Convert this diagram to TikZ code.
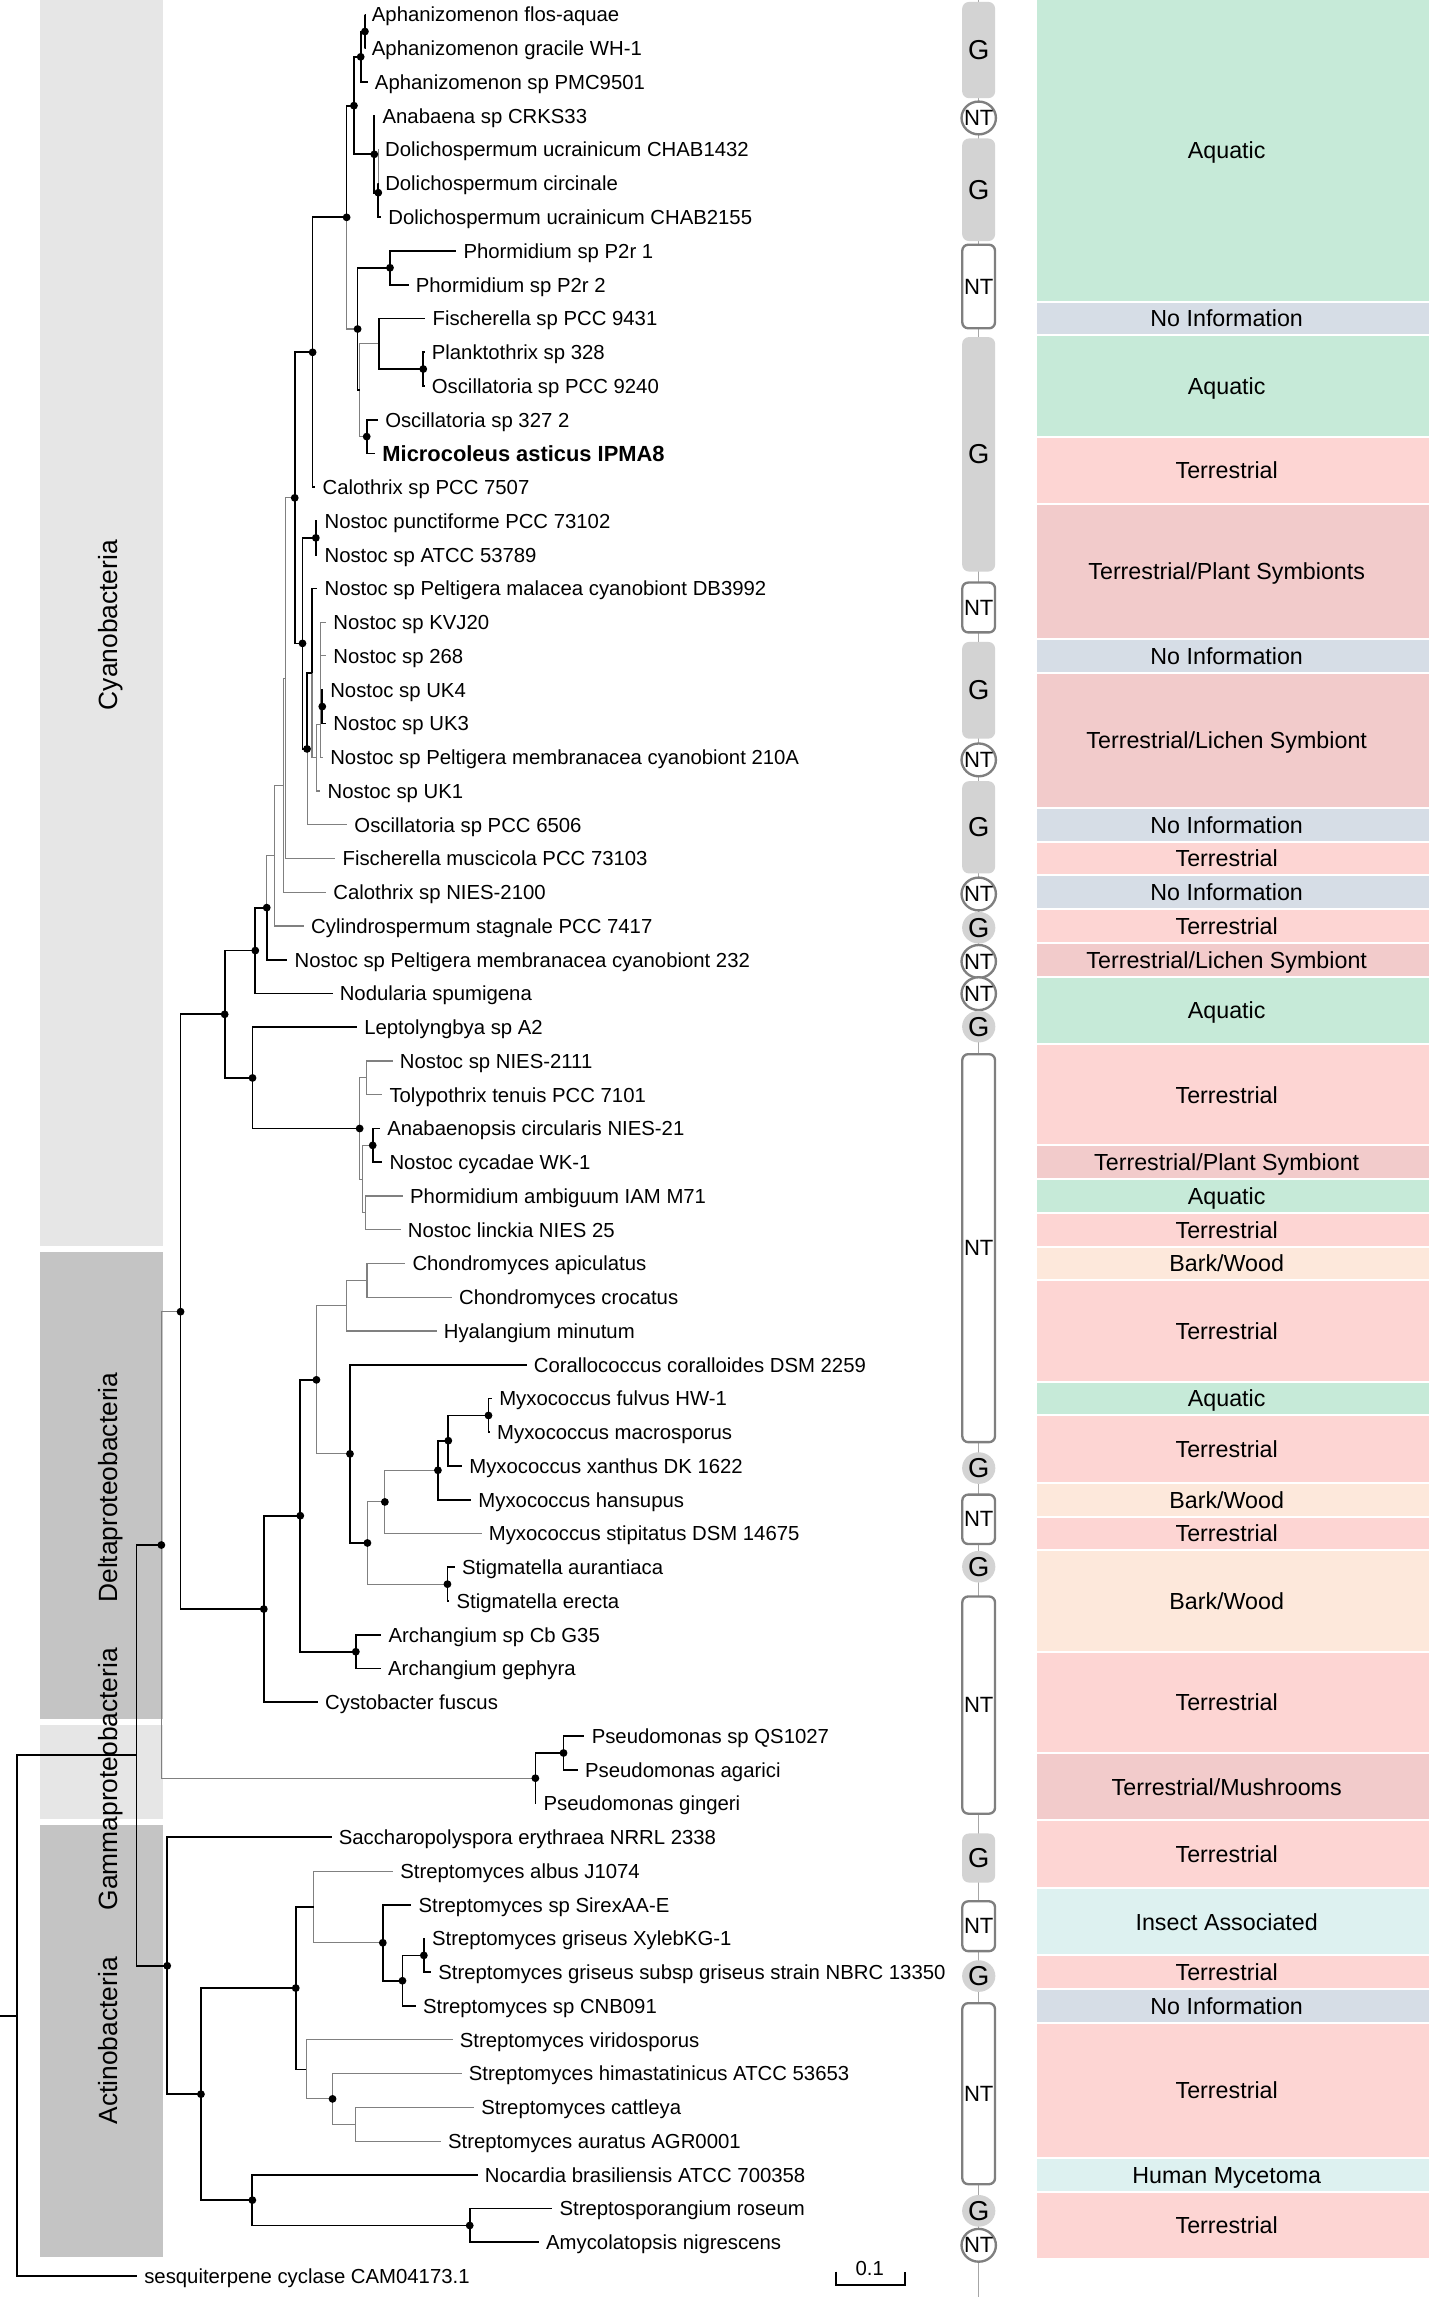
\documentclass[tikz,border=0pt]{standalone}
\usepackage{fontspec}
\setmainfont{Liberation Sans}
\definecolor{aqc}{HTML}{C6EAD8}
\definecolor{tec}{HTML}{FDD5D3}
\definecolor{tsc}{HTML}{F2CBCB}
\definecolor{nic}{HTML}{D6DDE6}
\definecolor{bwc}{HTML}{FDE8DB}
\definecolor{iac}{HTML}{DDF1F0}
\definecolor{barlight}{HTML}{E6E6E6}
\definecolor{bardark}{HTML}{C4C4C4}
\definecolor{gfillc}{HTML}{D3D3D3}
\definecolor{ntline}{HTML}{7F7F7F}
\definecolor{treegrey}{HTML}{808080}
\definecolor{colgrey}{HTML}{A6A6A6}
\newcommand\ry[1]{(10+23.03*(#1-1))}
\newcommand\tleaf[4]{\coordinate (#1) at ({#3-5.5},{\ry{#2}});
  \node[leaflab] (#1-l) at ({#3-0.8},{\ry{#2}+5}) {#4};}
\newcommand\hab[5]{\fill[#4] (707.3,{23.03*#2-23.845}) rectangle (975,{23.03*#3-2.215});
  \node[habtxt] (#1) at (837,{23.03*(#2+#3)/2-13.03+5.7}) {#5};}
\newcommand\gbox[3]{\fill[gfillc, rounded corners=3.5pt] (656.5,#2) rectangle (679,#3);
  \node[gtxt] (#1) at (667.8,{(#2+#3)/2}) {G};}
\newcommand\ntbox[3]{\filldraw[fill=white, draw=ntline, line width=1.2pt, rounded corners=3pt] (656.6,#2) rectangle (678.9,#3);
  \node[nttxt] (#1) at (667.8,{(#2+#3)/2}) {NT};}
\newcommand\ntcirc[2]{\filldraw[fill=white, draw=ntline, line width=1.2pt] (667.8,#2) ellipse [x radius=8.8pt, y radius=8.4pt];
  \node[nttxt] (#1) at (667.8,#2) {NT};}
\newcommand\gcirc[2]{\fill[gfillc] (667.8,#2) ellipse [x radius=8.5pt, y radius=8.1pt];
  \node[gtxt] (#1) at (667.8,#2) {G};}
\begin{document}
\begin{tikzpicture}[x={(0.75pt,0pt)}, y={(0pt,-0.75pt)},
  eblk/.style={line width=0.9pt, black},
  egry/.style={line width=0.55pt, treegrey},
  leaflab/.style={anchor=base west, inner sep=0pt, font=\fontsize{10.4}{12}\selectfont},
  boldlab/.style={anchor=base west, inner sep=0pt, font=\fontsize{11.2}{13}\selectfont\bfseries},
  habtxt/.style={anchor=base, inner sep=0pt, font=\fontsize{11.9}{14}\selectfont},
  gtxt/.style={inner sep=0pt, font=\fontsize{14}{16}\selectfont},
  nttxt/.style={inner sep=0pt, font=\fontsize{11.3}{13}\selectfont},
  cladelab/.style={rotate=90, anchor=base, inner sep=0pt, font=\fontsize{13.5}{16}\selectfont},
  colline/.style={line width=0.6pt, colgrey},
  haq/.style={fill=aqc}, hte/.style={fill=tec}, hts/.style={fill=tsc},
  hni/.style={fill=nic}, hbw/.style={fill=bwc}, hia/.style={fill=iac}]
\useasboundingbox (0,0) rectangle (975,1567.3);

% clade bars
\fill[barlight] (27.3,0) rectangle (111.4,850);
\fill[bardark] (27.3,854) rectangle (111.4,1173);
\fill[barlight] (27.3,1177) rectangle (111.4,1241);
\fill[bardark] (27.3,1245) rectangle (111.4,1540);
\node[cladelab] (cyano) at (80.2,426.5) {Cyanobacteria};
\node[cladelab] (delta) at (80.2,1015) {Deltaproteobacteria};
\node[cladelab] (gamma) at (80.2,1214) {Gammaproteobacteria};
\node[cladelab] (actino) at (80.2,1392.5) {Actinobacteria};

% habitat column
\hab{h1}{1}{9}{haq}{Aquatic}
\hab{h2}{10}{10}{hni}{No Information}
\hab{h3}{11}{13}{haq}{Aquatic}
\hab{h4}{14}{15}{hte}{Terrestrial}
\hab{h5}{16}{19}{hts}{Terrestrial/Plant Symbionts}
\hab{h6}{20}{20}{hni}{No Information}
\hab{h7}{21}{24}{hts}{Terrestrial/Lichen Symbiont}
\hab{h8}{25}{25}{hni}{No Information}
\hab{h9}{26}{26}{hte}{Terrestrial}
\hab{h10}{27}{27}{hni}{No Information}
\hab{h11}{28}{28}{hte}{Terrestrial}
\hab{h12}{29}{29}{hts}{Terrestrial/Lichen Symbiont}
\hab{h13}{30}{31}{haq}{Aquatic}
\hab{h14}{32}{34}{hte}{Terrestrial}
\hab{h15}{35}{35}{hts}{Terrestrial/Plant Symbiont}
\hab{h16}{36}{36}{haq}{Aquatic}
\hab{h17}{37}{37}{hte}{Terrestrial}
\hab{h18}{38}{38}{hbw}{Bark/Wood}
\hab{h19}{39}{41}{hte}{Terrestrial}
\hab{h20}{42}{42}{haq}{Aquatic}
\hab{h21}{43}{44}{hte}{Terrestrial}
\hab{h22}{45}{45}{hbw}{Bark/Wood}
\hab{h23}{46}{46}{hte}{Terrestrial}
\hab{h24}{47}{49}{hbw}{Bark/Wood}
\hab{h25}{50}{52}{hte}{Terrestrial}
\hab{h26}{53}{54}{hts}{Terrestrial/Mushrooms}
\hab{h27}{55}{56}{hte}{Terrestrial}
\hab{h28}{57}{58}{hia}{Insect Associated}
\hab{h29}{59}{59}{hte}{Terrestrial}
\hab{h30}{60}{60}{hni}{No Information}
\hab{h31}{61}{64}{hte}{Terrestrial}
\hab{h32}{65}{65}{hia}{Human Mycetoma}
\hab{h33}{66}{67}{hte}{Terrestrial}

% G / NT column
\coordinate (colTop) at (667.8,0);
\coordinate (colBot) at (667.8,1567.3);
\draw[colline] (colTop) -- (colBot);
\gbox{g1}{1.3}{67}
\ntcirc{nt1}{80.5}
\gbox{g2}{94.5}{164.5}
\ntbox{nt2}{167}{224}
\gbox{g3}{230}{390}
\ntbox{nt3}{397.5}{431.5}
\gbox{g4}{438}{504}
\ntcirc{nt4}{518.5}
\gbox{g5}{533}{596}
\ntcirc{nt5}{610}
\gcirc{g6}{633}
\ntcirc{nt6}{656}
\ntcirc{nt7}{678}
\gcirc{g7}{700.5}
\ntbox{nt8}{719.3}{984}
\gcirc{g8}{1001.7}
\ntbox{nt9}{1019.8}{1053.5}
\gcirc{g9}{1069}
\ntbox{nt10}{1089.3}{1237.5}
\gbox{g10}{1251}{1284.5}
\ntbox{nt11}{1297.3}{1331.3}
\gcirc{g11}{1348.3}
\ntbox{nt12}{1366.8}{1490.3}
\gcirc{g12}{1508.5}
\ntcirc{nt13}{1532}

% leaves
\tleaf{l1}{1}{254.3}{Aphanizomenon flos-aquae}
\tleaf{l2}{2}{254.3}{Aphanizomenon gracile WH-1}
\tleaf{l3}{3}{256.4}{Aphanizomenon sp PMC9501}
\tleaf{l4}{4}{261.6}{Anabaena sp CRKS33}
\tleaf{l5}{5}{263.3}{Dolichospermum ucrainicum CHAB1432}
\tleaf{l6}{6}{263.4}{Dolichospermum circinale}
\tleaf{l7}{7}{265.6}{Dolichospermum ucrainicum CHAB2155}
\tleaf{l8}{8}{316.8}{Phormidium sp P2r 1}
\tleaf{l9}{9}{284.3}{Phormidium sp P2r 2}
\tleaf{l10}{10}{295.7}{Fischerella sp PCC 9431}
\tleaf{l11}{11}{295.2}{Planktothrix sp 328}
\tleaf{l12}{12}{295.2}{Oscillatoria sp PCC 9240}
\tleaf{l13}{13}{263.4}{Oscillatoria sp 327 2}
\coordinate (l14) at (256,{\ry{14}});
\node[boldlab] (l14-l) at (260.7,{\ry{14}+5.3}) {Microcoleus asticus IPMA8};
\tleaf{l15}{15}{220.7}{Calothrix sp PCC 7507}
\tleaf{l16}{16}{222}{Nostoc punctiforme PCC 73102}
\tleaf{l17}{17}{222}{Nostoc sp ATCC 53789}
\tleaf{l18}{18}{222}{Nostoc sp Peltigera malacea cyanobiont DB3992}
\tleaf{l19}{19}{228}{Nostoc sp KVJ20}
\tleaf{l20}{20}{228}{Nostoc sp 268}
\tleaf{l21}{21}{225.9}{Nostoc sp UK4}
\tleaf{l22}{22}{228}{Nostoc sp UK3}
\tleaf{l23}{23}{225.9}{Nostoc sp Peltigera membranacea cyanobiont 210A}
\tleaf{l24}{24}{224.1}{Nostoc sp UK1}
\tleaf{l25}{25}{242.4}{Oscillatoria sp PCC 6506}
\tleaf{l26}{26}{234.3}{Fischerella muscicola PCC 73103}
\tleaf{l27}{27}{228}{Calothrix sp NIES-2100}
\tleaf{l28}{28}{212.9}{Cylindrospermum stagnale PCC 7417}
\tleaf{l29}{29}{201.6}{Nostoc sp Peltigera membranacea cyanobiont 232}
\tleaf{l30}{30}{232.4}{Nodularia spumigena}
\tleaf{l31}{31}{249.1}{Leptolyngbya sp A2}
\tleaf{l32}{32}{273.4}{Nostoc sp NIES-2111}
\tleaf{l33}{33}{266.3}{Tolypothrix tenuis PCC 7101}
\tleaf{l34}{34}{264.8}{Anabaenopsis circularis NIES-21}
\tleaf{l35}{35}{266.3}{Nostoc cycadae WK-1}
\tleaf{l36}{36}{280.4}{Phormidium ambiguum IAM M71}
\tleaf{l37}{37}{278.9}{Nostoc linckia NIES 25}
\tleaf{l38}{38}{282}{Chondromyces apiculatus}
\tleaf{l39}{39}{313.8}{Chondromyces crocatus}
\tleaf{l40}{40}{303.4}{Hyalangium minutum}
\tleaf{l41}{41}{364.8}{Corallococcus coralloides DSM 2259}
\tleaf{l42}{42}{341.2}{Myxococcus fulvus HW-1}
\tleaf{l43}{43}{339.8}{Myxococcus macrosporus}
\tleaf{l44}{44}{320.8}{Myxococcus xanthus DK 1622}
\tleaf{l45}{45}{327}{Myxococcus hansupus}
\tleaf{l46}{46}{334.1}{Myxococcus stipitatus DSM 14675}
\tleaf{l47}{47}{315.8}{Stigmatella aurantiaca}
\tleaf{l48}{48}{312.1}{Stigmatella erecta}
\tleaf{l49}{49}{265.7}{Archangium sp Cb G35}
\tleaf{l50}{50}{265.4}{Archangium gephyra}
\tleaf{l51}{51}{222.4}{Cystobacter fuscus}
\tleaf{l52}{52}{404.3}{Pseudomonas sp QS1027}
\tleaf{l53}{53}{399.8}{Pseudomonas agarici}
\tleaf{l54}{54}{371.5}{Pseudomonas gingeri}
\tleaf{l55}{55}{231.7}{Saccharopolyspora erythraea NRRL 2338}
\tleaf{l56}{56}{273.7}{Streptomyces albus J1074}
\tleaf{l57}{57}{286.2}{Streptomyces sp SirexAA-E}
\tleaf{l58}{58}{295.4}{Streptomyces griseus XylebKG-1}
\tleaf{l59}{59}{299.6}{Streptomyces griseus subsp griseus strain NBRC 13350}
\tleaf{l60}{60}{289.2}{Streptomyces sp CNB091}
\tleaf{l61}{61}{314.3}{Streptomyces viridosporus}
\tleaf{l62}{62}{320.5}{Streptomyces himastatinicus ATCC 53653}
\tleaf{l63}{63}{328.9}{Streptomyces cattleya}
\tleaf{l64}{64}{306.3}{Streptomyces auratus AGR0001}
\tleaf{l65}{65}{331.4}{Nocardia brasiliensis ATCC 700358}
\tleaf{l66}{66}{382.4}{Streptosporangium roseum}
\tleaf{l67}{67}{373.2}{Amycolatopsis nigrescens}
\tleaf{l68}{68}{99}{sesquiterpene cyclase CAM04173.1}

% internal nodes
\coordinate (A) at (249.0,21.5);
\coordinate (B) at (246.1,38.8);
\coordinate (C) at (241.5,72.1);
\coordinate (D) at (255.4,105.3);
\coordinate (E) at (258.1,131.5);
\coordinate (N1) at (236.5,148.3);
\coordinate (N2) at (244.0,224.5);
\coordinate (P) at (266.1,182.7);
\coordinate (N3) at (245.5,266.2);
\coordinate (Q) at (258.6,234.6);
\coordinate (S) at (288.8,251.8);
\coordinate (R) at (250.2,297.9);
\coordinate (N0) at (213.3,240.4);
\coordinate (M1) at (201.1,339.7);
\coordinate (M2) at (206.4,439.0);
\coordinate (M3) at (215.5,367.0);
\coordinate (M4) at (209.5,511.0);
\coordinate (M5) at (212.9,459.3);
\coordinate (M6) at (216.0,517.1);
\coordinate (M7) at (218.6,494.5);
\coordinate (M8) at (219.9,482.1);
\coordinate (L1) at (194.6,462.8);
\coordinate (L2) at (193.3,535.8);
\coordinate (L3) at (187.5,583.8);
\coordinate (L4) at (182.0,619.3);
\coordinate (K1) at (174.2,648.6);
\coordinate (K0) at (153.3,692.1);
\coordinate (K2) at (172.3,735.5);
\coordinate (K3) at (245.4,770.0);
\coordinate (K4) at (249.9,735.5);
\coordinate (K5) at (247.3,804.5);
\coordinate (K6) at (254.3,781.5);
\coordinate (K7) at (249.1,827.6);
\coordinate (J0) at (123.2,895.0);
\coordinate (J1) at (180.0,1097.9);
\coordinate (J2) at (204.9,1034.2);
\coordinate (J3) at (215.9,941.5);
\coordinate (J5) at (236.3,890.9);
\coordinate (J8) at (250.4,873.6);
\coordinate (J6) at (238.8,992.0);
\coordinate (J9) at (250.7,1052.8);
\coordinate (J10) at (262.6,1024.8);
\coordinate (J11) at (305.3,1080.9);
\coordinate (J12) at (298.8,1003.2);
\coordinate (J13) at (305.9,983.0);
\coordinate (J14) at (333.3,965.8);
\coordinate (J4) at (242.8,1127.0);
\coordinate (I0) at (110.1,1054.2);
\coordinate (G1) at (365.3,1213.3);
\coordinate (G2) at (384.5,1196.1);
\coordinate (H0) at (93.1,1197.7);
\coordinate (R0) at (11.7,1375.4);
\coordinate (root) at (0,1375.4);
\coordinate (F0) at (114.1,1341.3);
\coordinate (F1) at (137.1,1428.9);
\coordinate (F2) at (201.8,1356.5);
\coordinate (F3) at (172.2,1501.2);
\coordinate (F4) at (320.5,1518.5);
\coordinate (F5) at (214.0,1301.1);
\coordinate (F6) at (209.0,1412.0);
\coordinate (F7) at (261.2,1325.6);
\coordinate (F8) at (274.6,1351.5);
\coordinate (F9) at (289.2,1334.2);
\coordinate (F10) at (226.9,1432.1);
\coordinate (F11) at (242.4,1449.4);

% grey branches
\foreach \p/\c in {E/l5, N1/N2, N3/Q, N3/R, M4/l25, M5/M6, M6/M7, M6/l24,
  M7/l19, M7/l20, M7/M8, M7/l23, L1/M1, L1/l26, L2/L1, L2/l27, L3/L2, L3/l28,
  L4/L3, K3/K4, K3/K5, K4/l32, K4/l33, K5/K6, K5/K7, K7/l36, K7/l37,
  J3/J5, J3/J6, J5/J8, J5/l40, J8/l38, J8/l39, J9/J10, J9/J11, J10/J12, J10/l46,
  I0/J0, I0/G1, F5/l56, F5/F7, F6/l61, F6/F10, F10/l62, F10/F11, F11/l63, F11/l64}
  \draw[egry] (\p) |- (\c);

% black branches
\foreach \p/\c in {A/l1, A/l2, B/A, B/l3, C/B, C/D, D/l4, D/E, E/l6, E/l7,
  N1/C, N2/P, N2/N3, P/l8, P/l9, Q/l10, Q/S, S/l11, S/l12, R/l13, R/l14,
  N0/N1, N0/l15, M1/N0, M1/M2, M2/M3, M2/M4, M3/l16, M3/l17, M4/M5, M5/l18,
  M8/l21, M8/l22, L4/l29, K1/L4, K1/l30, K0/K1, K0/K2, K2/l31, K2/K3,
  K6/l34, K6/l35, J0/K0, J0/J1, J1/J2, J1/l51, J2/J3, J2/J4, J4/l49, J4/l50,
  J6/l41, J6/J9, J11/l47, J11/l48, J12/J13, J12/l45, J13/J14, J13/l44,
  J14/l42, J14/l43, G1/G2, G1/l54, G2/l52, G2/l53, H0/I0, H0/F0, R0/H0, R0/l68,
  F0/l55, F0/F1, F1/F2, F1/F3, F3/l65, F3/F4, F4/l66, F4/l67, F2/F5, F2/F6,
  F7/l57, F7/F8, F8/F9, F8/l60, F9/l58, F9/l59}
  \draw[eblk] (\p) |- (\c);
\draw[eblk] (root) -- (R0);

% support dots
\foreach \n in {A,B,C,D,E,N1,N2,P,S,R,N0,M1,M2,M3,M4,M8,L4,K1,K0,K2,K3,K6,
  J0,J1,J2,J3,J4,J6,J9,J10,J11,J12,J13,J14,I0,G1,G2,F0,F1,F2,F3,F4,F7,F8,F9,F10}
  \fill (\n) circle[radius=2pt];

% scale bar
\coordinate (sbA) at (570.4,1550);
\coordinate (sbB) at (570.4,1559);
\coordinate (sbC) at (617.6,1559);
\coordinate (sbD) at (617.6,1550);
\draw[eblk] (sbA) -- (sbB) -- (sbC) -- (sbD);
\node[anchor=base, inner sep=0pt, font=\fontsize{10.4}{12}\selectfont] (sblab) at (593.4,1552.3) {0.1};
\end{tikzpicture}
\end{document}
